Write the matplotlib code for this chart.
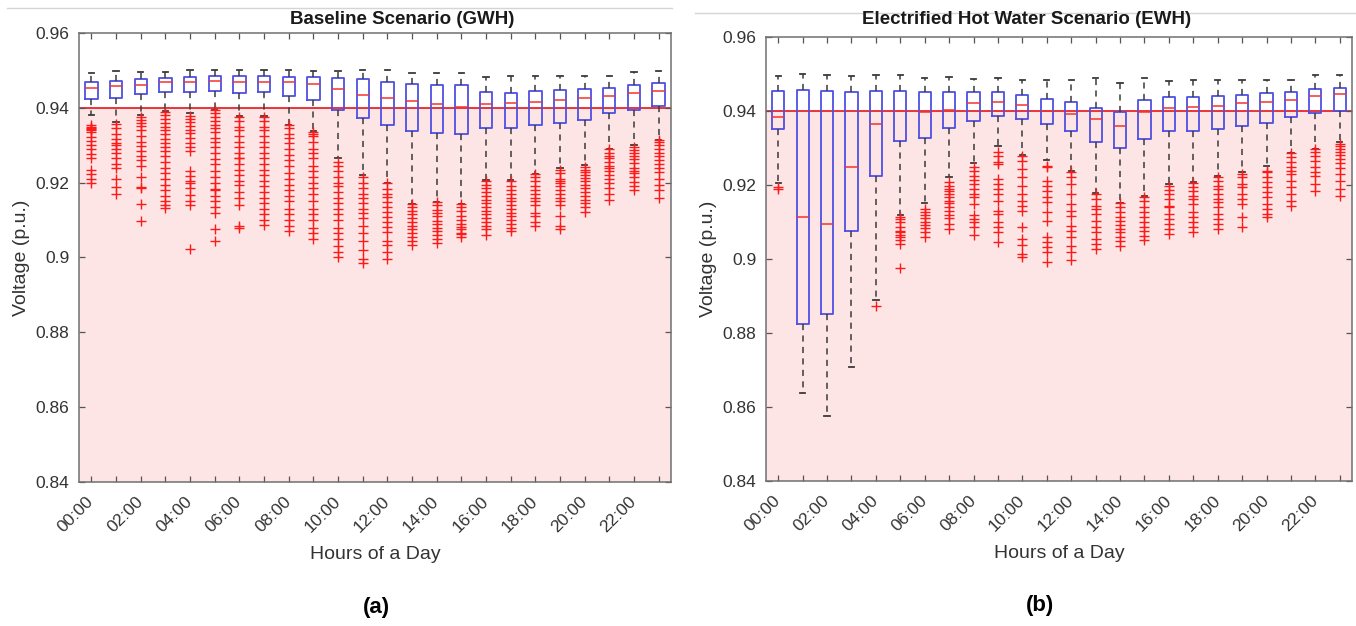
import matplotlib
matplotlib.use("Agg")
import matplotlib.pyplot as plt
from matplotlib.lines import Line2D
from matplotlib.ticker import FuncFormatter

plt.rcParams['font.family'] = ['Liberation Sans', 'DejaVu Sans']

hours = [f'{h:02d}:00' for h in range(24)]

# Baseline scenario (GWH): box statistics per hour
base_hi = [0.9494, 0.9499, 0.9497, 0.9497, 0.9500, 0.9502, 0.9502, 0.9502, 0.9502, 0.9499, 0.9499, 0.9501,
           0.9501, 0.9494, 0.9492, 0.9492, 0.9483, 0.9486, 0.9486, 0.9485, 0.9486, 0.9486, 0.9496, 0.9499]
base_q3 = [0.9469, 0.9472, 0.9476, 0.9481, 0.9483, 0.9485, 0.9485, 0.9486, 0.9483, 0.9483, 0.9480, 0.9478,
           0.9469, 0.9465, 0.9461, 0.9461, 0.9443, 0.9440, 0.9445, 0.9447, 0.9450, 0.9453, 0.9462, 0.9467]
base_med = [0.9453, 0.9459, 0.9462, 0.9468, 0.9469, 0.9471, 0.9469, 0.9469, 0.9469, 0.9463, 0.9449, 0.9434,
            0.9425, 0.9419, 0.9410, 0.9403, 0.9410, 0.9412, 0.9416, 0.9422, 0.9425, 0.9432, 0.9440, 0.9445]
base_q1 = [0.9423, 0.9425, 0.9436, 0.9443, 0.9441, 0.9445, 0.9440, 0.9441, 0.9432, 0.9422, 0.9393, 0.9374,
           0.9355, 0.9338, 0.9334, 0.9331, 0.9345, 0.9345, 0.9354, 0.9360, 0.9367, 0.9387, 0.9394, 0.9404]
base_lo = [0.9380, 0.9363, 0.9380, 0.9391, 0.9385, 0.9394, 0.9378, 0.9378, 0.9355, 0.9338, 0.9265, 0.9220,
           0.9200, 0.9144, 0.9149, 0.9142, 0.9207, 0.9207, 0.9224, 0.9238, 0.9247, 0.9290, 0.9300, 0.9315]
base_out = [
    [0.9354, 0.9350, 0.9347, 0.9343, 0.9340, 0.9336, 0.9322, 0.9312, 0.9300, 0.9289, 0.9276, 0.9265, 0.9233, 0.9223, 0.9211, 0.9200],
    [0.9358, 0.9345, 0.9331, 0.9318, 0.9305, 0.9302, 0.9291, 0.9278, 0.9265, 0.9251, 0.9238, 0.9211, 0.9189, 0.9171],
    [0.9376, 0.9368, 0.9360, 0.9352, 0.9340, 0.9325, 0.9310, 0.9298, 0.9285, 0.9270, 0.9260, 0.9245, 0.9216, 0.9189, 0.9186, 0.9144, 0.9098],
    [0.9388, 0.9380, 0.9370, 0.9360, 0.9350, 0.9340, 0.9330, 0.9318, 0.9305, 0.9296, 0.9285, 0.9270, 0.9255, 0.9240, 0.9225, 0.9210, 0.9195, 0.9180, 0.9165, 0.9150, 0.9140, 0.9132],
    [0.9379, 0.9370, 0.9362, 0.9352, 0.9342, 0.9332, 0.9320, 0.9305, 0.9295, 0.9285, 0.9231, 0.9218, 0.9205, 0.9199, 0.9185, 0.9168, 0.9150, 0.9141, 0.9024],
    [0.9394, 0.9385, 0.9375, 0.9365, 0.9355, 0.9345, 0.9335, 0.9320, 0.9310, 0.9295, 0.9280, 0.9262, 0.9250, 0.9230, 0.9215, 0.9200, 0.9182, 0.9180, 0.9165, 0.9150, 0.9135, 0.9120, 0.9075, 0.9045],
    [0.9376, 0.9365, 0.9350, 0.9340, 0.9325, 0.9310, 0.9295, 0.9280, 0.9266, 0.9265, 0.9250, 0.9235, 0.9220, 0.9205, 0.9195, 0.9175, 0.9160, 0.9140, 0.9085, 0.9080],
    [0.9376, 0.9365, 0.9350, 0.9340, 0.9325, 0.9310, 0.9295, 0.9280, 0.9265, 0.9250, 0.9235, 0.9220, 0.9205, 0.9190, 0.9175, 0.9160, 0.9145, 0.9130, 0.9115, 0.9100, 0.9086],
    [0.9354, 0.9345, 0.9330, 0.9320, 0.9305, 0.9290, 0.9275, 0.9260, 0.9245, 0.9225, 0.9210, 0.9195, 0.9180, 0.9165, 0.9150, 0.9130, 0.9115, 0.9100, 0.9085, 0.9070],
    [0.9336, 0.9330, 0.9325, 0.9310, 0.9290, 0.9280, 0.9265, 0.9245, 0.9230, 0.9215, 0.9200, 0.9185, 0.9170, 0.9150, 0.9130, 0.9115, 0.9100, 0.9080, 0.9065, 0.9050],
    [0.9256, 0.9245, 0.9230, 0.9215, 0.9200, 0.9190, 0.9175, 0.9160, 0.9145, 0.9130, 0.9115, 0.9100, 0.9080, 0.9065, 0.9050, 0.9030, 0.9015, 0.9000],
    [0.9215, 0.9200, 0.9185, 0.9170, 0.9160, 0.9145, 0.9130, 0.9120, 0.9105, 0.9085, 0.9065, 0.9045, 0.9020, 0.8995, 0.8985],
    [0.9198, 0.9184, 0.9171, 0.9162, 0.9149, 0.9135, 0.9122, 0.9109, 0.9095, 0.9082, 0.9069, 0.9045, 0.9033, 0.9015, 0.8995],
    [0.9144, 0.9135, 0.9125, 0.9115, 0.9105, 0.9095, 0.9085, 0.9075, 0.9065, 0.9055, 0.9045, 0.9033],
    [0.9149, 0.9140, 0.9128, 0.9120, 0.9110, 0.9098, 0.9090, 0.9080, 0.9070, 0.9060, 0.9050, 0.9040],
    [0.9142, 0.9135, 0.9125, 0.9110, 0.9100, 0.9090, 0.9082, 0.9075, 0.9065, 0.9064, 0.9055],
    [0.9205, 0.9195, 0.9185, 0.9175, 0.9165, 0.9155, 0.9145, 0.9135, 0.9125, 0.9115, 0.9105, 0.9095, 0.9085, 0.9075, 0.9060],
    [0.9205, 0.9190, 0.9180, 0.9170, 0.9160, 0.9150, 0.9140, 0.9130, 0.9120, 0.9110, 0.9100, 0.9090, 0.9080, 0.9070],
    [0.9223, 0.9215, 0.9205, 0.9190, 0.9180, 0.9170, 0.9160, 0.9150, 0.9140, 0.9120, 0.9110, 0.9095, 0.9085],
    [0.9235, 0.9225, 0.9210, 0.9205, 0.9200, 0.9190, 0.9180, 0.9170, 0.9160, 0.9150, 0.9140, 0.9110, 0.9085, 0.9075],
    [0.9242, 0.9235, 0.9228, 0.9220, 0.9212, 0.9205, 0.9195, 0.9185, 0.9175, 0.9165, 0.9155, 0.9145, 0.9135, 0.9122],
    [0.9289, 0.9280, 0.9272, 0.9265, 0.9255, 0.9245, 0.9238, 0.9230, 0.9220, 0.9210, 0.9198, 0.9185, 0.9170, 0.9153],
    [0.9296, 0.9288, 0.9280, 0.9270, 0.9262, 0.9252, 0.9240, 0.9230, 0.9225, 0.9215, 0.9202, 0.9190, 0.9180],
    [0.9314, 0.9308, 0.9300, 0.9290, 0.9280, 0.9272, 0.9260, 0.9250, 0.9240, 0.9228, 0.9210, 0.9195, 0.9180, 0.9158],
]

# Electrified hot water scenario (EWH)
ewh_hi = [0.9495, 0.9499, 0.9496, 0.9495, 0.9497, 0.9496, 0.9490, 0.9493, 0.9487, 0.9489, 0.9483, 0.9484,
          0.9484, 0.9489, 0.9477, 0.9488, 0.9482, 0.9483, 0.9484, 0.9483, 0.9483, 0.9485, 0.9497, 0.9497]
ewh_q3 = [0.9454, 0.9456, 0.9453, 0.9452, 0.9454, 0.9453, 0.9450, 0.9450, 0.9451, 0.9450, 0.9443, 0.9432,
          0.9423, 0.9408, 0.9398, 0.9431, 0.9439, 0.9437, 0.9441, 0.9443, 0.9448, 0.9452, 0.9460, 0.9463]
ewh_med = [0.9385, 0.9113, 0.9094, 0.9249, 0.9364, 0.9400, 0.9396, 0.9403, 0.9421, 0.9425, 0.9417, 0.9401,
           0.9392, 0.9378, 0.9359, 0.9396, 0.9407, 0.9410, 0.9414, 0.9421, 0.9423, 0.9430, 0.9440, 0.9445]
ewh_q1 = [0.9350, 0.8825, 0.8851, 0.9076, 0.9223, 0.9320, 0.9328, 0.9354, 0.9374, 0.9387, 0.9378, 0.9365,
          0.9347, 0.9315, 0.9300, 0.9324, 0.9345, 0.9345, 0.9351, 0.9360, 0.9368, 0.9385, 0.9395, 0.9400]
ewh_lo = [0.9206, 0.8639, 0.8576, 0.8708, 0.8889, 0.9120, 0.9151, 0.9221, 0.9260, 0.9305, 0.9282, 0.9268,
          0.9239, 0.9178, 0.9151, 0.9171, 0.9203, 0.9207, 0.9224, 0.9234, 0.9250, 0.9286, 0.9297, 0.9315]
ewh_out = [
    [0.9194, 0.9189],
    [],
    [],
    [],
    [0.8872],
    [0.9113, 0.9108, 0.9099, 0.9086, 0.9077, 0.9072, 0.9066, 0.9059, 0.9050, 0.9041, 0.8976],
    [0.9135, 0.9128, 0.9120, 0.9110, 0.9100, 0.9092, 0.9085, 0.9072, 0.9059],
    [0.9207, 0.9198, 0.9190, 0.9183, 0.9175, 0.9167, 0.9158, 0.9150, 0.9140, 0.9130, 0.9120, 0.9110, 0.9095, 0.9081],
    [0.9248, 0.9239, 0.9225, 0.9214, 0.9203, 0.9189, 0.9176, 0.9167, 0.9149, 0.9120, 0.9109, 0.9099, 0.9086, 0.9066],
    [0.9288, 0.9279, 0.9261, 0.9257, 0.9216, 0.9203, 0.9189, 0.9176, 0.9158, 0.9131, 0.9122, 0.9099, 0.9086, 0.9072, 0.9045],
    [0.9279, 0.9264, 0.9243, 0.9221, 0.9198, 0.9176, 0.9158, 0.9144, 0.9131, 0.9086, 0.9054, 0.9038, 0.9014, 0.9005],
    [0.9252, 0.9248, 0.9212, 0.9198, 0.9185, 0.9167, 0.9153, 0.9126, 0.9104, 0.9059, 0.9045, 0.9032, 0.9018, 0.8991],
    [0.9234, 0.9221, 0.9203, 0.9176, 0.9149, 0.9131, 0.9117, 0.9090, 0.9077, 0.9059, 0.9036, 0.9018, 0.8996],
    [0.9176, 0.9162, 0.9144, 0.9135, 0.9122, 0.9104, 0.9086, 0.9072, 0.9054, 0.9041, 0.9027],
    [0.9151, 0.9140, 0.9126, 0.9113, 0.9102, 0.9093, 0.9081, 0.9072, 0.9059, 0.9048, 0.9036],
    [0.9167, 0.9158, 0.9140, 0.9126, 0.9113, 0.9099, 0.9086, 0.9077, 0.9063, 0.9050],
    [0.9198, 0.9187, 0.9176, 0.9162, 0.9144, 0.9140, 0.9122, 0.9108, 0.9095, 0.9081, 0.9068],
    [0.9205, 0.9194, 0.9185, 0.9171, 0.9162, 0.9149, 0.9126, 0.9113, 0.9099, 0.9086, 0.9072],
    [0.9221, 0.9212, 0.9198, 0.9189, 0.9176, 0.9162, 0.9153, 0.9140, 0.9122, 0.9108, 0.9095, 0.9081],
    [0.9230, 0.9221, 0.9203, 0.9194, 0.9176, 0.9162, 0.9149, 0.9113, 0.9086],
    [0.9239, 0.9234, 0.9221, 0.9207, 0.9194, 0.9180, 0.9167, 0.9149, 0.9135, 0.9122, 0.9113],
    [0.9286, 0.9275, 0.9261, 0.9248, 0.9239, 0.9230, 0.9212, 0.9194, 0.9176, 0.9158, 0.9144],
    [0.9297, 0.9288, 0.9279, 0.9266, 0.9248, 0.9234, 0.9225, 0.9203, 0.9185],
    [0.9312, 0.9305, 0.9298, 0.9290, 0.9280, 0.9270, 0.9260, 0.9245, 0.9230, 0.9210, 0.9190, 0.9170],
]

limit = 0.94
yticks = [0.84, 0.86, 0.88, 0.90, 0.92, 0.94, 0.96]


def make_stats(lo, q1, med, q3, hi, out):
    stats = []
    for i in range(len(med)):
        stats.append(dict(whislo=lo[i], q1=q1[i], med=med[i], q3=q3[i], whishi=hi[i], fliers=out[i]))
    return stats


def draw_panel(ax, stats):
    ax.axhspan(0.84, limit, color='#fde5e5', zorder=0, lw=0)
    ax.axhline(limit, color='#e8252b', lw=1.3, zorder=1)
    ax.bxp(stats, positions=range(1, 25), widths=0.5, capwidths=0.22,
           boxprops=dict(color='#4f4fe3', lw=1.3),
           medianprops=dict(color='#f2332f', lw=1.1),
           whiskerprops=dict(color='#3a3a3a', lw=1.1, ls=(0, (4, 3.5))),
           capprops=dict(color='#3a3a3a', lw=1.3),
           flierprops=dict(marker='+', markeredgecolor='#ff1a1a', markersize=7,
                           markeredgewidth=1.0, ls='none'),
           zorder=2)
    ax.set_xlim(0.5, 24.5)
    ax.set_ylim(0.84, 0.96)
    ax.set_yticks(yticks)
    ax.yaxis.set_major_formatter(FuncFormatter(lambda v, p: f'{v:g}'))
    ax.set_xticks(range(1, 25))
    ax.set_xticklabels([h if i % 2 == 0 else '' for i, h in enumerate(hours)],
                       rotation=45, ha='right', va='center', rotation_mode='anchor')
    ax.tick_params(direction='in', top=True, right=True, length=4, width=0.9,
                   color='#555555', labelsize=12.5, labelcolor='#333333', pad=7)
    ax.tick_params(axis='x', pad=12)
    for s in ax.spines.values():
        s.set_color('#707070')
        s.set_linewidth(1.1)
    ax.set_ylabel('Voltage (p.u.)', fontsize=14, color='#333333', labelpad=4)
    ax.set_xlabel('Hours of a Day', fontsize=14, color='#333333', labelpad=8)


fig = plt.figure(figsize=(13.56, 6.26), dpi=100)
W, H = 1356, 626

ax1 = fig.add_axes([79 / W, (H - 482) / H, 592 / W, 449 / H])
draw_panel(ax1, make_stats(base_lo, base_q1, base_med, base_q3, base_hi, base_out))
ax2 = fig.add_axes([766 / W, (H - 481) / H, 586 / W, 444 / H])
draw_panel(ax2, make_stats(ewh_lo, ewh_q1, ewh_med, ewh_q3, ewh_hi, ewh_out))

fig.text(290 / W, 1 - 19 / H, 'Baseline Scenario (GWH)', fontsize=13.5, fontweight='bold',
         color='#1a1a1a', ha='left', va='center')
fig.text(862 / W, 1 - 20 / H, 'Electrified Hot Water Scenario (EWH)', fontsize=13.5, fontweight='bold',
         color='#1a1a1a', ha='left', va='center')
fig.text(376 / W, 1 - 607 / H, '(a)', fontsize=16, fontweight='bold', ha='center', va='center')
fig.text(1040 / W, 1 - 605 / H, '(b)', fontsize=16, fontweight='bold', ha='center', va='center')

# thin frame lines above each panel
fig.add_artist(Line2D([7 / W, 672 / W], [1 - 8 / H, 1 - 8 / H], color='#d5d5d5', lw=1))
fig.add_artist(Line2D([695 / W, 1 - 1 / W], [1 - 12.5 / H, 1 - 12.5 / H], color='#d5d5d5', lw=1))

fig.savefig('out.png', dpi=100)
